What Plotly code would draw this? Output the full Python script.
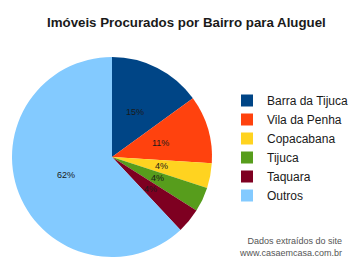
import math
import plotly.graph_objects as go

labels = ["Barra da Tijuca", "Vila da Penha", "Copacabana", "Tijuca", "Taquara", "Outros"]
values = [15, 11, 4, 4, 4, 62]
colors = ["#004586", "#ff420e", "#ffd320", "#579d1c", "#7e0021", "#83caff"]

W, H = 360, 269
cx, cy, R = 112, 157, 100

fig = go.Figure()
fig.add_trace(go.Pie(
    labels=labels, values=values, sort=False, direction="clockwise", rotation=0,
    marker=dict(colors=colors, line=dict(width=0)),
    textinfo="none", hoverinfo="label+percent",
    domain=dict(x=[(cx - R) / W, (cx + R) / W], y=[1 - (cy + R) / H, 1 - (cy - R) / H]),
))

# percentage labels at half radius, mid angle of each slice
total = sum(values)
cum = 0
for v in values:
    mid = (cum + v / 2) / total * 2 * math.pi
    cum += v
    px = cx + 0.5 * R * math.sin(mid)
    py = cy - 0.5 * R * math.cos(mid)
    fig.add_annotation(x=px / W, y=1 - py / H, xref="paper", yref="paper",
                       xanchor="center", yanchor="middle",
                       text=f"{round(v / total * 100)}%", showarrow=False,
                       font=dict(family="Liberation Sans", size=9, color="#1a1a1a"))

fig.add_annotation(x=186 / W, y=1 - 22 / H, xref="paper", yref="paper",
                   xanchor="center", yanchor="middle",
                   text="<b>Imóveis Procurados por Bairro para Aluguel</b>", showarrow=False,
                   font=dict(family="Liberation Sans", size=13.3, color="#1a1a1a"))
fig.add_annotation(x=344 / W, y=1 - 246.5 / H, xref="paper", yref="paper",
                   xanchor="right", yanchor="middle",
                   text="Dados extraídos do site<br>www.casaemcasa.com.br", showarrow=False,
                   align="right",
                   font=dict(family="Liberation Sans", size=9, color="#555555"))

fig.update_layout(
    width=W, height=H, margin=dict(l=0, r=0, t=0, b=0, autoexpand=False),
    paper_bgcolor="white", plot_bgcolor="white",
    showlegend=True,
    legend=dict(x=227 / W, y=1 - 86 / H, xanchor="left", yanchor="top",
                font=dict(family="Liberation Sans", size=12, color="#1a1a1a"),
                bgcolor="rgba(0,0,0,0)", itemwidth=30),
)
fig.write_html("out.html")
